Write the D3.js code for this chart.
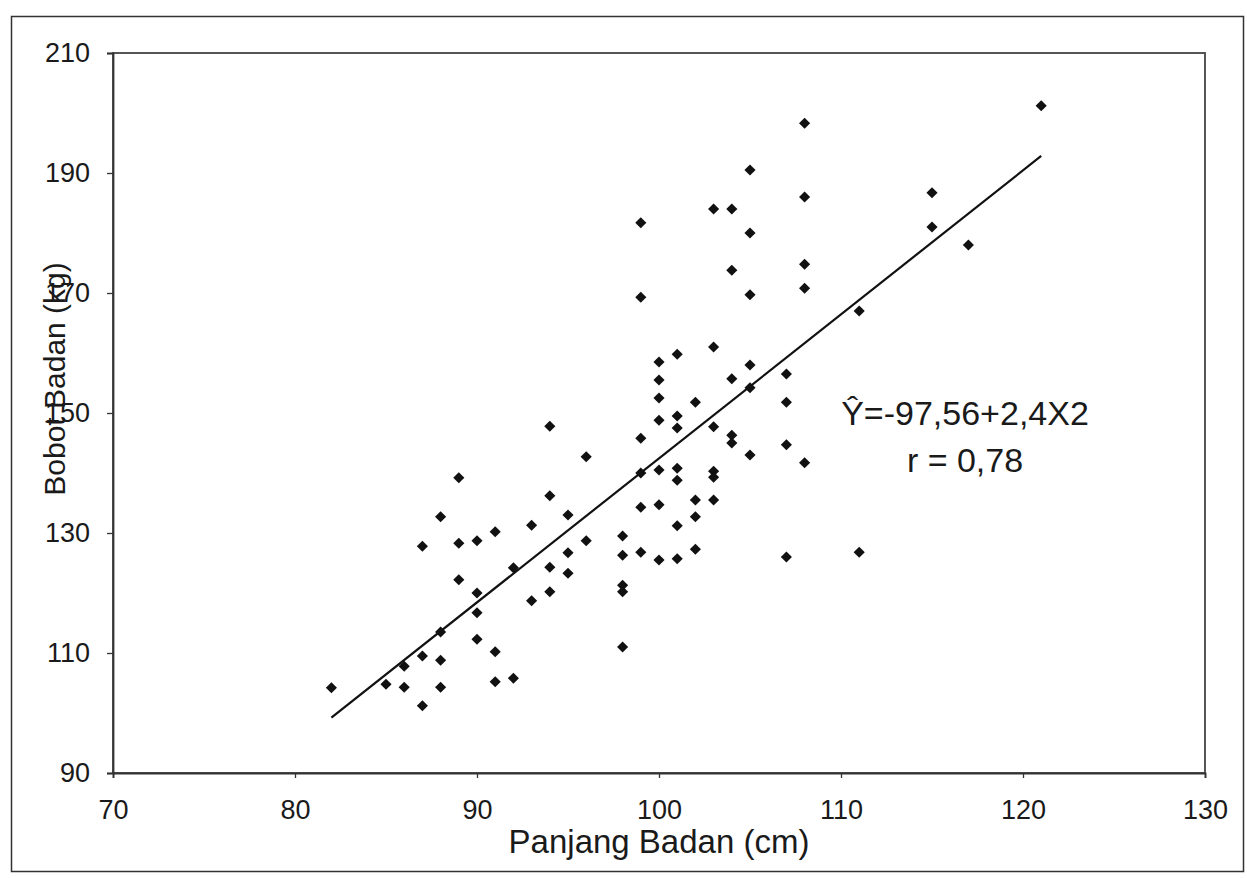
<!DOCTYPE html>
<html>
<head>
<meta charset="utf-8">
<script src="https://cdn.jsdelivr.net/npm/d3@7"></script>
<style>
  body { margin: 0; background: #fff; }
  svg text { font-family: "Liberation Sans", Arial, sans-serif; fill: #1a1a1a; }
</style>
</head>
<body>
<svg id="chart" width="1247" height="878"></svg>
<script>
// panjang badan (cm) and bobot badan (kg)
var panjang = [82, 85, 86, 86, 87, 87, 88, 88, 88, 87, 88, 89, 89, 89, 90, 90, 90, 90, 91, 91,
    91, 92, 92, 93, 93, 94, 94, 94, 94, 95, 95, 95, 96, 96, 98, 98, 98, 98, 98, 99,
    99, 99, 99, 99, 99, 100, 100, 100, 100, 100, 100, 100, 101, 101, 101, 101, 101, 101, 101, 102,
    102, 102, 102, 103, 103, 103, 103, 103, 103, 104, 104, 104, 104, 104, 105, 105, 105, 105, 105, 105,
    107, 107, 107, 107, 108, 108, 108, 108, 108, 111, 111, 115, 115, 117, 121];
var bobot = [104.2, 104.8, 104.3, 107.8, 101.2, 109.5, 108.8, 104.3, 113.5, 127.8, 132.7, 139.2, 128.3, 122.2, 128.7, 120, 116.7, 112.3, 130.2, 110.2,
    105.2, 105.8, 124.2, 131.3, 118.7, 147.8, 136.2, 124.3, 120.2, 133, 126.7, 123.3, 142.7, 128.7, 129.5, 126.3, 121.3, 120.2, 111, 181.7,
    169.3, 145.8, 140, 134.3, 126.8, 158.5, 155.5, 152.5, 148.8, 140.5, 134.7, 125.5, 159.8, 149.5, 147.5, 140.8, 138.8, 131.2, 125.7, 151.8,
    135.5, 132.7, 127.3, 184, 161, 147.7, 140.3, 139.3, 135.5, 184, 173.8, 155.7, 146.3, 145, 190.5, 180, 169.7, 158, 154.2, 143,
    156.5, 151.8, 144.7, 126, 198.3, 186, 174.8, 170.8, 141.7, 167, 126.8, 186.7, 181, 178, 201.2];

var xTicks = [70, 80, 90, 100, 110, 120, 130];
var yTicks = [90, 110, 130, 150, 170, 190, 210];

// regression Y = -97.56 + 2.4 X, drawn over the data range
var intercept = -97.56, slope = 2.4;
var lineX = [82, 121];

var equationText = ["\u0176=-97,56+2,4X2", "r = 0,78"];

var margin = { left: 113, right: 42, top: 53, bottom: 105 };
var W = 1247, H = 878;

var svg = d3.select('#chart');

// outer chart frame
svg.append('rect')
    .attr('x', 11.5).attr('y', 16.5)
    .attr('width', 1232).attr('height', 855)
    .attr('fill', 'none').attr('stroke', '#333').attr('stroke-width', 1.5);

var x = d3.scaleLinear().domain([70, 130]).range([margin.left, W - margin.right]);
var y = d3.scaleLinear().domain([90, 210]).range([H - margin.bottom, margin.top]);

// plot area border
svg.append('rect')
    .attr('x', x(70)).attr('y', y(210))
    .attr('width', x(130) - x(70)).attr('height', y(90) - y(210))
    .attr('fill', 'none').attr('stroke', '#444').attr('stroke-width', 1.8);

var xAxis = svg.append('g')
    .attr('transform', 'translate(0,' + y(90) + ')')
    .call(d3.axisBottom(x).tickValues(xTicks).tickSize(5).tickPadding(22));
var yAxis = svg.append('g')
    .attr('transform', 'translate(' + x(70) + ',0)')
    .call(d3.axisLeft(y).tickValues(yTicks).tickSize(6).tickPadding(17));

[xAxis, yAxis].forEach(function(g) {
    g.select('.domain').attr('stroke', '#333').attr('stroke-width', 1.8);
    g.selectAll('.tick line').attr('stroke', '#333').attr('stroke-width', 1.3);
    g.selectAll('.tick text').style('font-size', '27px').attr('fill', '#1a1a1a');
});

// axis titles
svg.append('text')
    .attr('x', 659).attr('y', 853)
    .attr('text-anchor', 'middle')
    .style('font-size', '33px')
    .text('Panjang Badan (cm)');

svg.append('text')
    .attr('transform', 'translate(65,379) rotate(-90)')
    .attr('text-anchor', 'middle')
    .style('font-size', '30px')
    .text('Bobot Badan (kg)');

// regression line
svg.append('line')
    .attr('x1', x(lineX[0])).attr('y1', y(intercept + slope * lineX[0]))
    .attr('x2', x(lineX[1])).attr('y2', y(intercept + slope * lineX[1]))
    .attr('stroke', '#111').attr('stroke-width', 2.2);

// data points as small diamonds
var diamond = d3.symbol().type(d3.symbolSquare).size(62);
svg.append('g').selectAll('path')
    .data(d3.zip(panjang, bobot))
    .enter()
        .append('path')
            .attr('d', diamond)
            .attr('transform', function(d) { return 'translate(' + x(d[0]) + ',' + y(d[1]) + ') rotate(45)'; })
            .attr('fill', '#111');

// equation annotation
svg.selectAll('.eq')
    .data(equationText)
    .enter()
        .append('text')
            .attr('class', 'eq')
            .attr('x', 965)
            .attr('y', function(d, i) { return 425 + i * 47; })
            .attr('text-anchor', 'middle')
            .style('font-size', '34px')
            .text(function(d) { return d; });
</script>
</body>
</html>
